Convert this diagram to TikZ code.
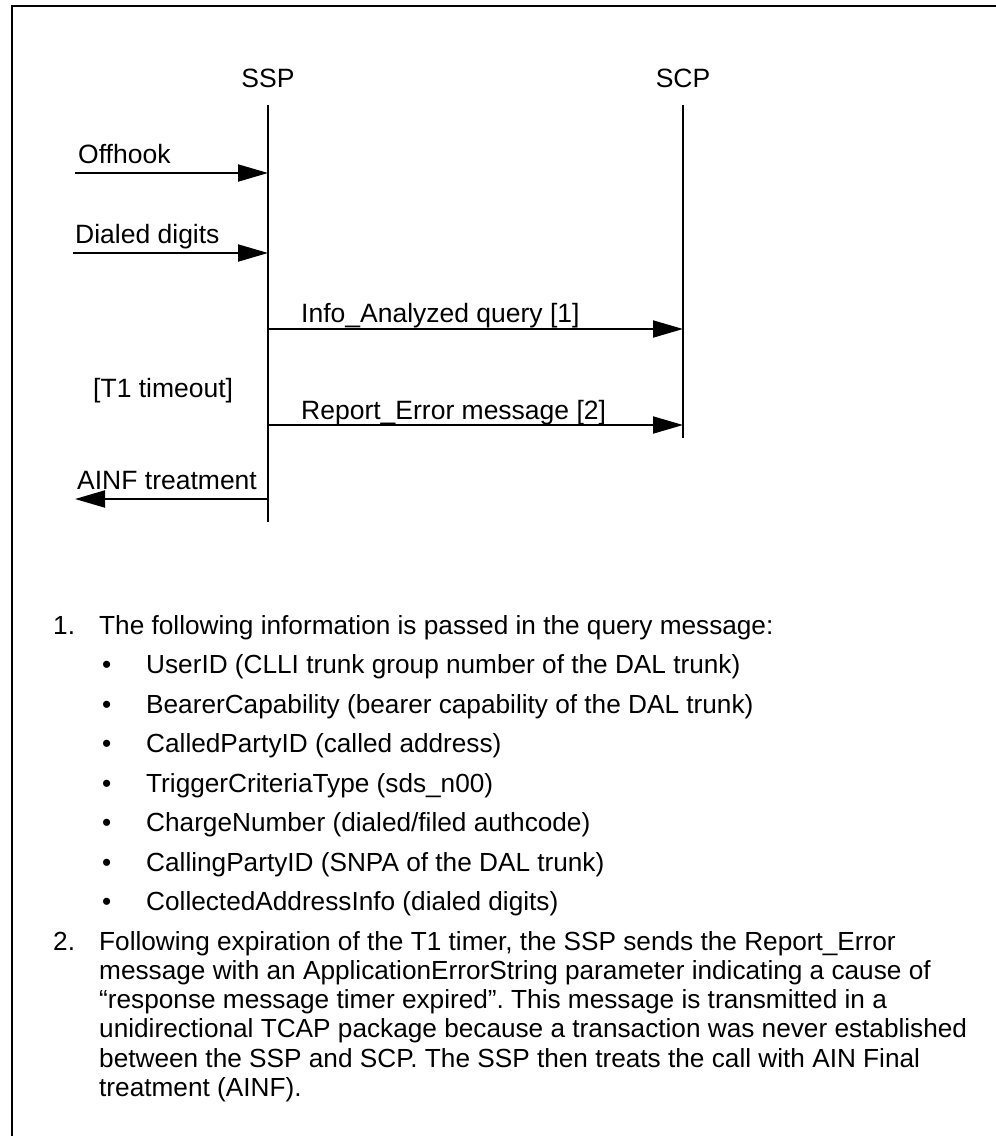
\documentclass[tikz,border=0pt]{standalone}
\usepackage{fontspec}
\setmainfont{Liberation Sans}
\usetikzlibrary{arrows.meta}
\frenchspacing
\begin{document}
\begin{tikzpicture}[x=1pt,y=-1pt,
  txt/.style={anchor=base west, inner sep=0pt, font=\fontsize{26.2}{30}\selectfont\frenchspacing},
  msgtxt/.style={anchor=base west, inner sep=0pt, font=\fontsize{26.5}{30}\selectfont},
  lbl/.style={anchor=base, inner sep=0pt, font=\fontsize{26.5}{30}\selectfont},
  life/.style={line width=2pt},
  msg/.style={line width=2pt, -{Triangle[length=30pt,width=17pt]}},
  frameline/.style={line width=2.2pt}]
\useasboundingbox (0,0) rectangle (996,1136);
\fill[white] (0,0) rectangle (996,1136);
% open frame: top and left edges
\coordinate (fbl) at (12,1136);
\coordinate (ftl) at (12,6);
\coordinate (ftr) at (996,6);
\draw[frameline] (fbl) -- (ftl) -- (ftr);

% participants and lifelines
\node[lbl] (ssp) at (268,87) {SSP};
\node[lbl] (scp) at (683,87) {SCP};
\coordinate (sspTop) at (268,105);
\coordinate (sspBot) at (268,522);
\coordinate (scpTop) at (683,105);
\coordinate (scpBot) at (683,438);
\draw[life] (sspTop) -- (sspBot);
\draw[life] (scpTop) -- (scpBot);

% messages
\coordinate (offA) at (75,173);   \coordinate (offB) at (268,173);
\coordinate (digA) at (73,253);   \coordinate (digB) at (268,253);
\coordinate (qryA) at (268,329);  \coordinate (qryB) at (683,329);
\coordinate (errA) at (268,425);  \coordinate (errB) at (683,425);
\coordinate (ainA) at (268,499);  \coordinate (ainB) at (75,499);
\draw[msg] (offA) -- (offB);
\draw[msg] (digA) -- (digB);
\draw[msg] (qryA) -- (qryB);
\draw[msg] (errA) -- (errB);
\draw[msg] (ainA) -- (ainB);
\node[msgtxt] (offL) at (78,163) {Offhook};
\node[msgtxt] (digL) at (75,243) {Dialed digits};
\node[msgtxt] (qryL) at (301,322) {Info\_Analyzed query [1]};
\node[msgtxt] (t1L)  at (93,397) {[T1 timeout]};
\node[msgtxt] (errL) at (301,419) {Report\_Error message [2]};
\node[msgtxt] (ainL) at (77,489) {AINF treatment};

% notes
\node[txt] (n1) at (53,634) {1.};
\node[txt] (n1t) at (99,634) {The following information is passed in the query message:};
\foreach \t [count=\i] in {
  {UserID (CLLI trunk group number of the DAL trunk)},
  {BearerCapability (bearer capability of the DAL trunk)},
  {CalledPartyID (called address)},
  {TriggerCriteriaType (sds\_n00)},
  {ChargeNumber (dialed/filed authcode)},
  {CallingPartyID (SNPA of the DAL trunk)},
  {CollectedAddressInfo (dialed digits)}} {
  \node[txt] (b\i) at (102,634+39.5*\i) {\textbullet};
  \node[txt] (bt\i) at (146,634+39.5*\i) {\t};
}
\node[txt] (n2) at (53,950) {2.};
\foreach \t [count=\i from 0] in {
  {Following expiration of the T1 timer, the SSP sends the Report\_Error},
  {message with an ApplicationErrorString parameter indicating a cause of},
  {“response message timer expired”. This message is transmitted in a},
  {unidirectional TCAP package because a transaction was never established},
  {between the SSP and SCP. The SSP then treats the call with AIN Final},
  {treatment (AINF).}} {
  \node[txt] (p\i) at (99,950+29.3*\i) {\t};
}
\end{tikzpicture}
\end{document}
